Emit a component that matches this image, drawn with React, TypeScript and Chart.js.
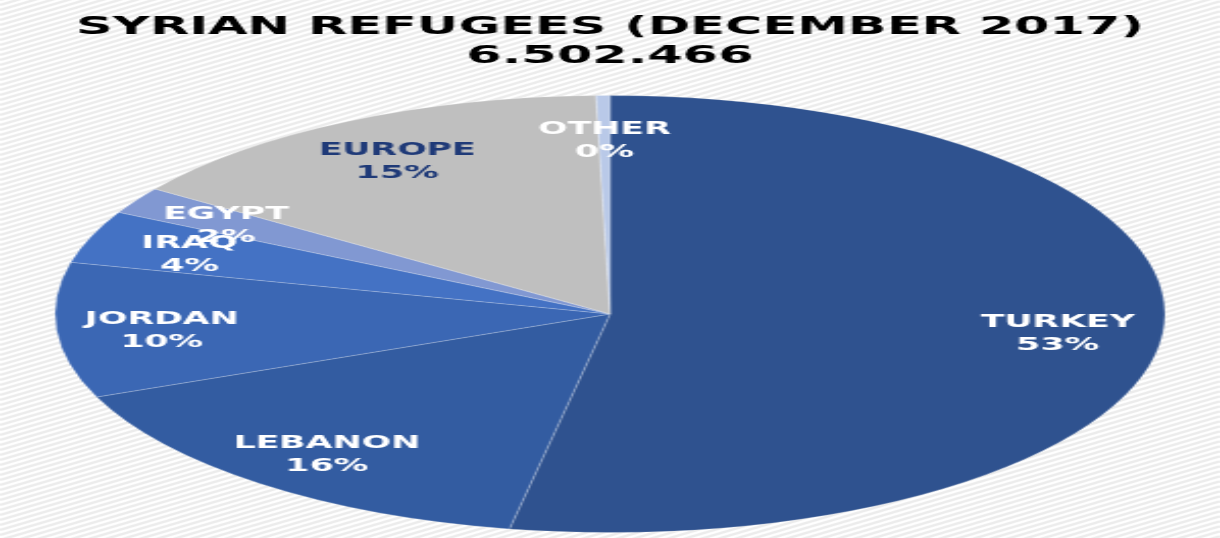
import React, { useEffect, useRef } from "react";
import { Chart, registerables } from "chart.js";

Chart.register(...registerables);

// ---- data ----
const categories = ["TURKEY", "LEBANON", "JORDAN", "IRAQ", "EGYPT", "EUROPE", "OTHER"];
const shares = [52.9, 15.9, 10.0, 3.9, 2.0, 14.9, 0.4];
const sliceColors = ["#2F528F", "#335CA1", "#3B67B4", "#4472C4", "#8198D2", "#BFBFBF", "#B9C9E8"];
const labelColors = ["#FFFFFF", "#FFFFFF", "#FFFFFF", "#FFFFFF", "#FFFFFF", "#1F3A78", "#FFFFFF"];
const titleLines = ["SYRIAN REFUGEES (DECEMBER 2017)", "6.502.466"];

// ---- layout ----
const W = 598;
const H = 538;
const STRETCH = 1220 / W; // horizontal stretch of the whole picture
const PIE_STRETCH = 1.245; // extra horizontal stretch of the pie (ellipse)
const FONT = "'DejaVu Sans', Verdana, sans-serif";

const backgroundPlugin = {
  id: "stripedBackground",
  beforeDraw(chart: any) {
    const { ctx, width, height } = chart;
    ctx.save();
    ctx.fillStyle = "#FFFFFF";
    ctx.fillRect(0, 0, width, height);
    ctx.strokeStyle = "#ECECEC";
    ctx.lineWidth = 2.2;
    const slope = 0.6;
    for (let y0 = -width * slope; y0 < height + width * slope; y0 += 5) {
      ctx.beginPath();
      ctx.moveTo(0, y0 + width * slope);
      ctx.lineTo(width, y0);
      ctx.stroke();
    }
    ctx.restore();
  },
};

const ellipsePlugin = {
  id: "ellipsePie",
  beforeDatasetsDraw(chart: any) {
    const { ctx, chartArea } = chart;
    const cx = (chartArea.left + chartArea.right) / 2;
    ctx.save();
    ctx.translate(cx, 0);
    ctx.scale(PIE_STRETCH, 1);
    ctx.translate(-cx, 0);
  },
  afterDatasetsDraw(chart: any) {
    const { ctx } = chart;
    ctx.restore();
    const meta = chart.getDatasetMeta(0);
    const data = chart.data.datasets[0].data as number[];
    const total = data.reduce((a, b) => a + b, 0);
    ctx.save();
    ctx.font = `bold 17px ${FONT}`;
    ctx.textAlign = "center";
    ctx.textBaseline = "middle";
    meta.data.forEach((arc: any, i: number) => {
      const p = arc.getProps(["x", "y", "startAngle", "endAngle", "outerRadius"], true);
      const mid = (p.startAngle + p.endAngle) / 2;
      const r = p.outerRadius * 0.81;
      const px = p.x + Math.cos(mid) * r * PIE_STRETCH;
      const py = p.y + Math.sin(mid) * r + 4;
      ctx.fillStyle = labelColors[i];
      const pct = Math.round((data[i] / total) * 100) + "%";
      ctx.fillText(chart.data.labels[i], px, py - 11.5);
      ctx.fillText(pct, px, py + 11.5);
    });
    ctx.restore();
  },
};

export default function App() {
  const canvasRef = useRef<HTMLCanvasElement | null>(null);

  useEffect(() => {
    if (!canvasRef.current) return;
    const chart = new Chart(canvasRef.current, {
      type: "pie",
      data: {
        labels: categories,
        datasets: [
          {
            data: shares,
            backgroundColor: sliceColors,
            borderColor: "rgba(255,255,255,0.18)",
            borderWidth: 1,
          },
        ],
      },
      options: {
        animation: false,
        responsive: true,
        maintainAspectRatio: false,
        layout: { padding: { top: 0, bottom: 5, left: 0, right: 0 } },
        plugins: {
          legend: { display: false },
          tooltip: { enabled: false },
          title: {
            display: true,
            text: titleLines,
            color: "#000000",
            font: { family: FONT, weight: "bold", size: 25, lineHeight: 1.16 },
            padding: { top: 13, bottom: 24 },
          },
        },
      },
      plugins: [backgroundPlugin, ellipsePlugin],
    } as any);
    return () => chart.destroy();
  }, []);

  return (
    <div
      style={{
        position: "absolute",
        left: 0,
        top: 0,
        width: W + "px",
        height: H + "px",
        transform: `scaleX(${STRETCH})`,
        transformOrigin: "0 0",
      }}
    >
      <canvas ref={canvasRef} />
    </div>
  );
}
